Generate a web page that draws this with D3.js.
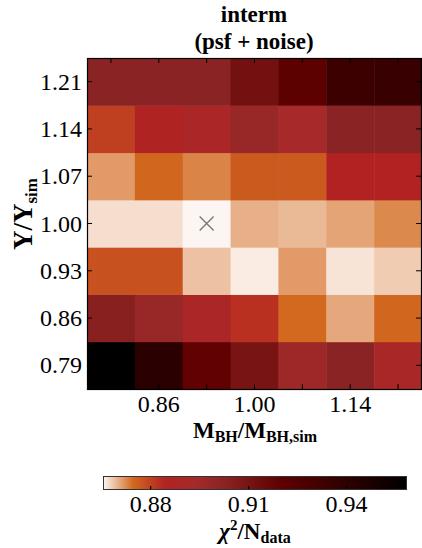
<!DOCTYPE html>
<html>
<head>
<meta charset="utf-8">
<script src="https://cdn.jsdelivr.net/npm/d3@7"></script>
<style>
  body { margin: 0; background: #fff; }
  text { font-family: "Liberation Serif", "DejaVu Serif", "Noto Serif", "Times New Roman", serif; }
</style>
</head>
<body>
<svg id="chart" width="422" height="548"></svg>
<script>
// grid values
const mbhVals = [0.79, 0.86, 0.93, 1.00, 1.07, 1.14, 1.21];
const upsVals = [0.79, 0.86, 0.93, 1.00, 1.07, 1.14, 1.21];
const xTickLabels = ["0.86", "1.00", "1.14"];

// chi2/Ndata, one row per Upsilon value (bottom to top)
const row079 = [0.9585, 0.9414, 0.919, 0.910, 0.8967, 0.903, 0.890];
const row086 = [0.904, 0.898, 0.889, 0.8824, 0.8746, 0.8705, 0.8748];
const row093 = [0.8777, 0.8777, 0.8688, 0.8661, 0.8714, 0.8666, 0.8682];
const row100 = [0.867, 0.867, 0.8655, 0.8700, 0.8694, 0.8708, 0.8725];
const row107 = [0.8714, 0.8750, 0.8728, 0.8767, 0.8767, 0.8844, 0.8844];
const row114 = [0.8803, 0.8855, 0.889, 0.898, 0.892, 0.903, 0.903];
const row121 = [0.903, 0.903, 0.903, 0.912, 0.921, 0.934, 0.936];
const chi2Rows = [row079, row086, row093, row100, row107, row114, row121];

// best fit marker
const best = { mbh: 0.93, ups: 1.00 };

// colour map
const cRange = [0.8654, 0.9585];
const cbTicks = [0.88, 0.91, 0.94];
const cmapPos = [0, 0.0987, 0.204, 0.3026, 0.4013, 0.5822, 1];
const cmapCols = ["#fdf7f3", "#d2691e", "#b22222", "#a52a2a", "#8b2323", "#600000", "#000000"];

const svg = d3.select("#chart");
const pL = 87, pT = 58, pR = 422, pB = 389;
const serif = "'Liberation Serif', 'DejaVu Serif', 'Noto Serif', serif";

const x = d3.scaleBand().domain(mbhVals).range([pL, pR]).padding(0);
const y = d3.scaleBand().domain(upsVals.slice().reverse()).range([pT, pB]).padding(0);

const norm = d3.scaleLinear().domain(cRange).range([0, 1]);
const cmap = d3.scaleLinear().domain(cmapPos).range(cmapCols).interpolate(d3.interpolateRgb).clamp(true);
const color = v => cmap(norm(v));

const cells = [];
chi2Rows.forEach((row, i) => {
    row.forEach((v, j) => cells.push({ mbh: mbhVals[j], ups: upsVals[i], v }));
});

svg.append("g").selectAll("rect")
    .data(cells)
    .enter().append("rect")
    .attr("x", d => x(d.mbh))
    .attr("y", d => y(d.ups))
    .attr("width", x.bandwidth() + 0.5)
    .attr("height", y.bandwidth() + 0.5)
    .attr("fill", d => color(d.v));

// marker
const mx = x(best.mbh) + x.bandwidth() / 2, my = y(best.ups) + y.bandwidth() / 2;
svg.append("path")
    .attr("d", `M${mx-7},${my-7}L${mx+7},${my+7}M${mx-7},${my+7}L${mx+7},${my-7}`)
    .attr("stroke", "#777").attr("stroke-width", 1.3).attr("fill", "none");

// ticks (inward, all four sides)
const tk = 5;
const tg = svg.append("g").attr("stroke", "#000").attr("stroke-width", 1);
mbhVals.forEach(v => {
    const cx = x(v) + x.bandwidth() / 2;
    tg.append("line").attr("x1", cx).attr("x2", cx).attr("y1", pT).attr("y2", pT + tk);
    tg.append("line").attr("x1", cx).attr("x2", cx).attr("y1", pB).attr("y2", pB - tk);
});
upsVals.forEach(v => {
    const cy = y(v) + y.bandwidth() / 2;
    tg.append("line").attr("x1", pL).attr("x2", pL + tk).attr("y1", cy).attr("y2", cy);
    tg.append("line").attr("x1", pR - 1).attr("x2", pR - 1 - tk).attr("y1", cy).attr("y2", cy);
});

svg.append("rect")
    .attr("x", pL + 0.5).attr("y", pT + 0.5)
    .attr("width", pR - pL - 1).attr("height", pB - pT)
    .attr("fill", "none").attr("stroke", "#000").attr("stroke-width", 1.2);

const txt = svg.append("g").attr("font-family", serif);

// tick labels
txt.append("g").selectAll("text")
    .data(upsVals)
    .enter().append("text")
    .attr("x", 82)
    .attr("y", d => y(d) + y.bandwidth() / 2 + 8)
    .attr("text-anchor", "end")
    .attr("font-size", 24)
    .text(d => d.toFixed(2));

txt.append("g").selectAll("text")
    .data(xTickLabels)
    .enter().append("text")
    .attr("x", d => x(+d) + x.bandwidth() / 2)
    .attr("y", 412)
    .attr("text-anchor", "middle")
    .attr("font-size", 24)
    .text(d => d);

// titles
const title = txt.append("text").attr("text-anchor", "middle").attr("font-weight", "bold").attr("font-size", 23);
title.append("tspan").attr("x", 254).attr("y", 22).text("interm");
title.append("tspan").attr("x", 254).attr("y", 49).text("(psf + noise)");

const xl = txt.append("text").attr("x", 255).attr("y", 438).attr("text-anchor", "middle")
    .attr("font-weight", "bold").attr("font-size", 23);
xl.append("tspan").text("M");
xl.append("tspan").attr("font-size", 16).attr("dy", 4).text("BH");
xl.append("tspan").attr("dy", -4).text("/M");
xl.append("tspan").attr("font-size", 16).attr("dy", 4).text("BH,sim");

const yl = txt.append("text").attr("transform", "translate(32,214) rotate(-90)")
    .attr("text-anchor", "middle").attr("font-weight", "bold").attr("font-size", 27);
yl.append("tspan").text("Υ/Υ");
yl.append("tspan").attr("font-size", 17).attr("dy", 5).text("sim");

// colour bar
const cbL = 103, cbR = 407, cbT = 476, cbB = 490;
const cbScale = d3.scaleLinear().domain(cRange).range([cbL, cbR]);
const grad = svg.append("defs").append("linearGradient").attr("id", "cbgrad");
grad.selectAll("stop")
    .data(cmapPos)
    .enter().append("stop")
    .attr("offset", d => d)
    .attr("stop-color", (d, i) => cmapCols[i]);

svg.append("rect")
    .attr("x", cbL).attr("y", cbT).attr("width", cbR - cbL).attr("height", cbB - cbT)
    .attr("fill", "url(#cbgrad)");

cbTicks.forEach(t => {
    svg.append("line")
        .attr("x1", cbScale(t)).attr("x2", cbScale(t))
        .attr("y1", cbB).attr("y2", cbB - 4)
        .attr("stroke", "#000").attr("stroke-width", 1.2);
});
svg.append("rect")
    .attr("x", cbL + 0.5).attr("y", cbT + 0.5).attr("width", cbR - cbL - 1).attr("height", cbB - cbT - 1)
    .attr("fill", "none").attr("stroke", "#333").attr("stroke-width", 1);

txt.append("g").selectAll("text")
    .data(cbTicks)
    .enter().append("text")
    .attr("x", d => cbScale(d))
    .attr("y", 512)
    .attr("text-anchor", "middle")
    .attr("font-size", 24)
    .text(d => d.toFixed(2));

const cl = txt.append("text").attr("x", 255).attr("y", 539).attr("text-anchor", "middle")
    .attr("font-weight", "bold").attr("font-size", 23);
cl.append("tspan").attr("font-style", "italic").text("χ");
cl.append("tspan").attr("font-size", 15).attr("dy", -9).text("2");
cl.append("tspan").attr("dy", 9).text("/N");
cl.append("tspan").attr("font-size", 16).attr("dy", 4).text("data");
</script>
</body>
</html>
